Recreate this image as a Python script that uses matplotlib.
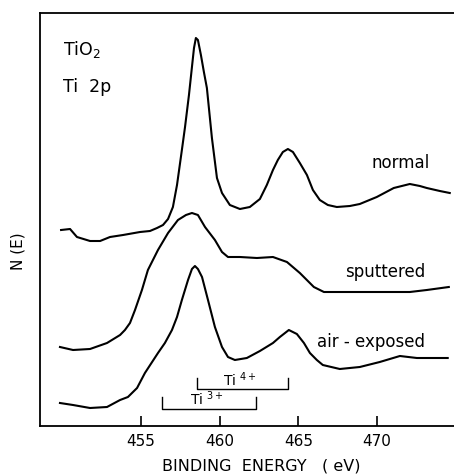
import matplotlib.pyplot as plt
import numpy as np

# Ti 2p spectra of TiO2 (N(E) in arbitrary units)
e_normal = [449.92, 450.49, 450.93, 451.76, 452.40, 453.03, 453.86, 454.94, 455.57, 456.02,
            456.40, 456.72, 457.03, 457.29, 457.60, 457.80, 458.05, 458.24, 458.37, 458.49,
            458.62, 458.81, 459.00, 459.19, 459.51, 459.83, 460.15, 460.65, 461.29, 461.92,
            462.56, 463.00, 463.39, 463.70, 464.02, 464.34, 464.66, 465.10, 465.55, 465.93,
            466.37, 466.88, 467.45, 468.28, 468.91, 469.99, 471.07, 472.09, 472.73, 473.17,
            474.00, 474.63]
n_normal = [196, 197, 189, 185, 185, 189, 191, 194, 195, 198,
            201, 207, 219, 241, 276, 299, 331, 359, 378, 388,
            386, 371, 354, 338, 288, 248, 233, 221, 217, 219,
            227, 241, 256, 266, 274, 277, 274, 263, 251, 236,
            226, 221, 219, 220, 222, 229, 238, 242, 240, 238,
            235, 233]

e_sput = [449.85, 450.68, 451.76, 452.84, 453.67, 453.98, 454.30, 454.62, 455.06, 455.44,
          456.08, 456.72, 457.35, 457.86, 458.24, 458.62, 459.07, 459.70, 460.15, 460.53,
          461.29, 462.37, 463.39, 464.28, 465.10, 465.99, 466.63, 467.90, 469.99, 472.09,
          473.17, 474.57]
n_sput = [79, 76, 77, 83, 91, 96, 103, 116, 136, 156,
          176, 193, 206, 211, 213, 211, 199, 186, 174, 169,
          169, 168, 169, 164, 153, 139, 134, 134, 134, 134,
          136, 139]

e_air = [449.85, 450.68, 451.76, 452.84, 453.67, 454.17, 454.75, 455.25, 456.08, 456.52,
         456.97, 457.29, 457.60, 457.99, 458.24, 458.43, 458.62, 458.88, 459.26, 459.70,
         460.15, 460.53, 460.97, 461.73, 462.56, 463.39, 463.83, 464.40, 464.91, 465.36,
         465.74, 466.18, 466.56, 467.64, 468.91, 470.18, 471.46, 472.54, 474.50]
n_air = [23, 21, 18, 19, 26, 29, 38, 53, 73, 83,
         96, 109, 126, 146, 157, 160, 157, 149, 126, 99,
         79, 69, 66, 68, 75, 83, 89, 96, 92, 83,
         73, 66, 61, 57, 59, 64, 70, 68, 68]

# bracket markers: Ti 4+ and Ti 3+ (2p3/2 .. 2p1/2)
ti4 = [458.56, 464.34]
ti3 = [456.33, 462.30]

fig = plt.figure(figsize=(4.54, 4.75), dpi=100)
ax = fig.add_axes([40/454, 49/475, 414/454, 413/475])

for e, n in [(e_normal, n_normal), (e_sput, n_sput), (e_air, n_air)]:
    ax.plot(e, n, color='black', lw=1.5)

# brackets
ax.plot([ti4[0], ti4[0], ti4[1], ti4[1]], [48, 37, 37, 48], color='black', lw=1.0)
ax.plot([ti3[0], ti3[0], ti3[1], ti3[1]], [29, 17, 17, 29], color='black', lw=1.0)
ax.text(460.2, 40, r'Ti $^{4+}$', fontsize=10)
ax.text(458.1, 21, r'Ti $^{3+}$', fontsize=10)

ax.text(450.04, 371, r'TiO$_2$', fontsize=12.5)
ax.text(450.04, 334, 'Ti  2p', fontsize=12.5)
ax.text(469.68, 258, 'normal', fontsize=12)
ax.text(467.96, 149, 'sputtered', fontsize=12)
ax.text(466.18, 79, 'air - exposed', fontsize=12)

ax.set_xlim(448.58, 474.9)
ax.set_ylim(0, 413)
ax.set_xticks([455, 460, 465, 470])
ax.set_yticks([])
ax.tick_params(axis='x', direction='in', length=7, width=1.2, pad=6, labelsize=11)
ax.spines['right'].set_visible(False)
for s in ['left', 'bottom', 'top']:
    ax.spines[s].set_linewidth(1.3)

ax.set_xlabel('BINDING  ENERGY   ( eV)', fontsize=11.5)
ax.xaxis.set_label_coords(0.534, -0.078)
ax.set_ylabel('N (E)', fontsize=11)
ax.yaxis.set_label_coords(-0.036, 0.424)

fig.savefig('out.png', dpi=100)
